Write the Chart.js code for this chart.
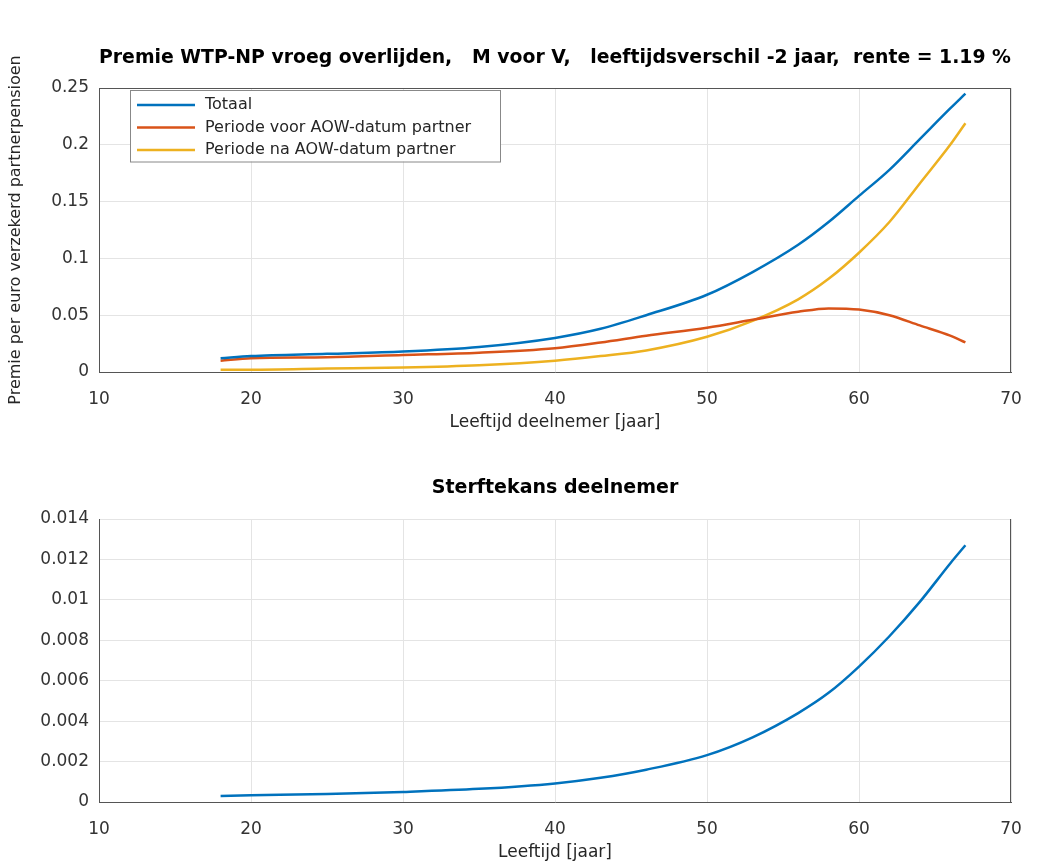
<!DOCTYPE html>
<html>
<head>
<meta charset="utf-8">
<script src="https://cdn.jsdelivr.net/npm/chart.js@4/dist/chart.umd.min.js"></script>
<style>
  body { margin: 0; background: #fff; }
  .box { position: absolute; left: 0; width: 1050px; height: 433px; }
</style>
</head>
<body>
<div class="box" style="top:0px"><canvas id="premie"></canvas></div>
<div class="box" style="top:430px"><canvas id="sterfte"></canvas></div>
<script>
// leeftijd deelnemer
const ages = [18, 20, 25, 30, 35, 40, 43, 46, 50, 53, 56, 58, 60, 62, 64, 66, 67];
// premie per euro verzekerd partnerpensioen
const totaal = [0.012, 0.014, 0.016, 0.018, 0.022, 0.030, 0.038, 0.050, 0.068, 0.088, 0.112, 0.132, 0.155, 0.178, 0.205, 0.232, 0.245];
const voorAOW = [0.010, 0.012, 0.013, 0.015, 0.017, 0.021, 0.026, 0.032, 0.039, 0.046, 0.053, 0.056, 0.055, 0.050, 0.041, 0.032, 0.026];
const naAOW = [0.002, 0.002, 0.003, 0.004, 0.006, 0.010, 0.014, 0.019, 0.031, 0.045, 0.064, 0.082, 0.105, 0.132, 0.166, 0.200, 0.219];
// sterftekans deelnemer
const sterfte = [0.00030, 0.00033, 0.00040, 0.00050, 0.00065, 0.00092, 0.00120, 0.00160, 0.00232, 0.00320, 0.00440, 0.00540, 0.00670, 0.00820, 0.00990, 0.01180, 0.01270];

const seriesNames = ["Totaal", "Periode voor AOW-datum partner", "Periode na AOW-datum partner"];
const kleuren = ["#0072BD", "#D95319", "#EDB120"];

const FONT = "'DejaVu Sans', Verdana, sans-serif";

function pts(ys) {
  return ages.map((a, i) => ({ x: a, y: ys[i] }));
}

// matlab style tick labels: 0.2 instead of 0.20
function shortTick(v) {
  return String(parseFloat(Number(v).toFixed(6)));
}

// box around the plot area, like matlab "box on"
const boxPlugin = {
  id: "boxPlugin",
  afterDraw(chart, args, opts) {
    const { ctx, chartArea: a } = chart;
    ctx.save();
    ctx.strokeStyle = "#555";
    ctx.lineWidth = 1;
    ctx.beginPath();
    if (opts.top) { ctx.moveTo(a.left, a.top + 0.5); ctx.lineTo(a.right, a.top + 0.5); }
    ctx.moveTo(a.right - 0.5, a.top);
    ctx.lineTo(a.right - 0.5, a.bottom);
    ctx.stroke();
    ctx.restore();
  }
};

// legend drawn inside the axes (northwest)
const innerLegend = {
  id: "innerLegend",
  afterDraw(chart, args, opts) {
    if (!opts.show) return;
    const { ctx, chartArea: a } = chart;
    const x0 = a.left + 31, y0 = a.top + 2, w = 370, rowH = 22.5;
    const h = rowH * chart.data.datasets.length + 4;
    ctx.save();
    ctx.fillStyle = "#fff";
    ctx.fillRect(x0, y0, w, h);
    ctx.strokeStyle = "#888";
    ctx.lineWidth = 1;
    ctx.strokeRect(x0 + 0.5, y0 + 0.5, w, h);
    ctx.font = "16px " + FONT;
    ctx.textBaseline = "middle";
    chart.data.datasets.forEach((ds, i) => {
      const y = y0 + 15 + i * rowH;
      ctx.strokeStyle = ds.borderColor;
      ctx.lineWidth = 2.5;
      ctx.beginPath();
      ctx.moveTo(x0 + 7, y);
      ctx.lineTo(x0 + 65, y);
      ctx.stroke();
      ctx.fillStyle = "#262626";
      ctx.fillText(ds.label, x0 + 75, y);
    });
    ctx.restore();
  }
};

function makeChart(id, datasets, cfg) {
  return new Chart(document.getElementById(id), {
    type: "line",
    data: { datasets: datasets },
    plugins: [boxPlugin, innerLegend],
    options: {
      responsive: true,
      maintainAspectRatio: false,
      animation: false,
      layout: { padding: { left: 6, right: 39, top: 0, bottom: 0 } },
      elements: { point: { radius: 0 }, line: { borderWidth: 2.5, cubicInterpolationMode: "monotone" } },
      plugins: {
        legend: { display: false },
        tooltip: { enabled: false },
        title: {
          display: true,
          text: cfg.title,
          fullSize: false,
          color: "#000",
          font: { family: FONT, size: 19, weight: "bold" },
          padding: { top: cfg.titleTop, bottom: cfg.titleBottom }
        },
        boxPlugin: { top: cfg.boxTop },
        innerLegend: { show: cfg.legend }
      },
      scales: {
        x: {
          type: "linear",
          min: 10, max: 70,
          ticks: { stepSize: 10, padding: 17, color: "#333", font: { family: FONT, size: 17 } },
          grid: { color: "#e4e4e4", drawTicks: false },
          border: { color: "#555" },
          title: { display: true, text: cfg.xTitle, color: "#262626", padding: 0, font: { family: FONT, size: 17 } },
          afterFit(s) { s.height = 61; }
        },
        y: {
          min: 0, max: cfg.yMax,
          ticks: { stepSize: cfg.yStep, padding: 10, color: "#333", font: { family: FONT, size: 17 }, callback: shortTick },
          grid: { color: "#e4e4e4", drawTicks: false },
          border: { color: "#555" },
          title: { display: !!cfg.yTitle, text: cfg.yTitle, color: "#262626", padding: 0, font: { family: FONT, size: 16 } },
          afterFit(s) { s.width = 93; }
        }
      }
    }
  });
}

makeChart("premie", [
  { label: seriesNames[0], data: pts(totaal), borderColor: kleuren[0] },
  { label: seriesNames[1], data: pts(voorAOW), borderColor: kleuren[1] },
  { label: seriesNames[2], data: pts(naAOW), borderColor: kleuren[2] }
], {
  title: "Premie WTP-NP vroeg overlijden,   M voor V,   leeftijdsverschil -2 jaar,  rente = 1.19 %",
  titleTop: 47, titleBottom: 18.2,
  xTitle: "Leeftijd deelnemer [jaar]",
  yTitle: "Premie per euro verzekerd partnerpensioen",
  yMax: 0.25, yStep: 0.05,
  legend: true, boxTop: true
});

makeChart("sterfte", [
  { label: "Sterftekans", data: pts(sterfte), borderColor: kleuren[0] }
], {
  title: "Sterftekans deelnemer",
  titleTop: 47, titleBottom: 19.2,
  xTitle: "Leeftijd [jaar]",
  yTitle: "",
  yMax: 0.014, yStep: 0.002,
  legend: false, boxTop: false
});
</script>
</body>
</html>
